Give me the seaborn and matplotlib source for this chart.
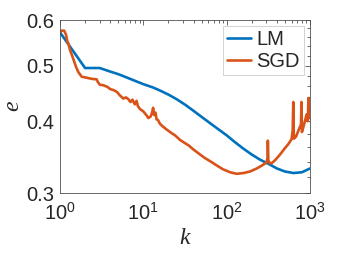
import numpy as np
import pandas as pd
import matplotlib
matplotlib.use('Agg')
import matplotlib.pyplot as plt
from matplotlib.ticker import FixedLocator, NullFormatter, FixedFormatter
import seaborn as sns

# --- datos ---
LM_K = [1, 2, 3, 4, 5, 6, 8, 10, 13, 16, 20, 25, 32, 40, 50, 63, 80, 100, 125,
        160, 200, 250, 320, 400, 500, 630, 800, 1000]
LM_E = [0.571, 0.495, 0.495, 0.488, 0.483, 0.478, 0.470, 0.464, 0.458, 0.452,
        0.445, 0.437, 0.427, 0.417, 0.407, 0.397, 0.387, 0.378, 0.368, 0.358,
        0.350, 0.343, 0.337, 0.331, 0.327, 0.325, 0.326, 0.331]

SGD_K = [1.00, 1.05, 1.12, 1.18, 1.22, 1.26, 1.32, 1.40, 1.48, 1.56, 1.66, 1.82,
         2.1, 2.4, 2.75, 2.85, 3.0, 3.3, 3.7, 4.0, 4.4, 4.8, 5.2, 5.75, 6.2, 6.6,
         7.0, 7.4, 7.9, 8.3, 8.6, 9.1, 10, 11, 11.5, 12.3, 12.8, 13.1, 13.5, 14,
         14.4, 15, 15.8, 17, 19, 22, 24, 27.6, 31, 35, 40, 48, 55, 65, 76, 90,
         110, 132, 160, 191, 230, 275, 300, 310, 312, 316, 330, 347, 380, 437,
         500, 550, 600, 620, 630, 640, 680, 740, 780, 790, 800, 850, 910, 940,
         960, 980, 1000]
SGD_E = [0.571, 0.575, 0.575, 0.566, 0.552, 0.546, 0.532, 0.520, 0.508, 0.497,
         0.487, 0.478, 0.476, 0.474, 0.473, 0.468, 0.463, 0.462, 0.459, 0.455,
         0.453, 0.450, 0.444, 0.438, 0.440, 0.437, 0.432, 0.436, 0.428, 0.434,
         0.425, 0.420, 0.416, 0.409, 0.405, 0.408, 0.415, 0.422, 0.410, 0.414,
         0.403, 0.402, 0.396, 0.392, 0.387, 0.381, 0.378, 0.371, 0.367, 0.363,
         0.357, 0.350, 0.345, 0.340, 0.335, 0.330, 0.326, 0.324, 0.325, 0.327,
         0.331, 0.336, 0.339, 0.345, 0.370, 0.342, 0.338, 0.338, 0.342, 0.350,
         0.359, 0.365, 0.372, 0.385, 0.432, 0.373, 0.376, 0.388, 0.395, 0.432,
         0.383, 0.395, 0.411, 0.400, 0.439, 0.405, 0.410]

SERIES = ['LM', 'SGD']
COLORS = ['#0072BD', '#D95319']
Y_TICKS = [0.3, 0.4, 0.5, 0.6]
Y_MINOR = [0.32, 0.34, 0.36, 0.38, 0.42, 0.44, 0.46, 0.48, 0.52, 0.54, 0.56, 0.58]
X_TICKS = [1, 10, 100, 1000]
X_LABELS = ['$10^{0}$', '$10^{1}$', '$10^{2}$', '$10^{3}$']

df = pd.concat([
    pd.DataFrame({'k': LM_K, 'e': LM_E, 'metodo': 'LM'}),
    pd.DataFrame({'k': SGD_K, 'e': SGD_E, 'metodo': 'SGD'}),
])

sns.set_style('white')
plt.rcParams['font.family'] = ['Liberation Sans', 'DejaVu Sans']
plt.rcParams['mathtext.fontset'] = 'custom'
plt.rcParams['mathtext.rm'] = 'Liberation Sans'
plt.rcParams['mathtext.it'] = 'Liberation Serif:italic'

fig = plt.figure(figsize=(3.42, 2.56), dpi=100)
ax = fig.add_axes([60 / 342, 63 / 256, 250 / 342, 173 / 256])

sns.lineplot(data=df, x='k', y='e', hue='metodo', hue_order=SERIES,
             palette=COLORS, estimator=None, sort=False, linewidth=1.9, ax=ax)

ax.set_xscale('log')
ax.set_yscale('log')
ax.set_xlim(1, 1000)
ax.set_ylim(0.3, 0.6)

ax.yaxis.set_major_locator(FixedLocator(Y_TICKS))
ax.yaxis.set_major_formatter(FixedFormatter([str(v) for v in Y_TICKS]))
ax.yaxis.set_minor_locator(FixedLocator(Y_MINOR))
ax.yaxis.set_minor_formatter(NullFormatter())
ax.xaxis.set_major_locator(FixedLocator(X_TICKS))
ax.xaxis.set_major_formatter(FixedFormatter(X_LABELS))

gris = '#262626'
for s in ax.spines.values():
    s.set_color('#505050')
    s.set_linewidth(0.6)
ax.tick_params(which='both', direction='in', top=True, right=True,
               colors='#505050', labelcolor=gris, labelsize=14.5, width=0.6)
ax.tick_params(which='major', length=3.5)
ax.tick_params(which='minor', length=2)
ax.tick_params(axis='x', which='major', pad=7)
ax.tick_params(axis='y', which='major', pad=4)

ax.set_xlabel('$k$', fontsize=17, color=gris, labelpad=2)
ax.set_ylabel('$e$', fontsize=17, color=gris, labelpad=2)

handles, labels = ax.get_legend_handles_labels()
leg = ax.legend(handles, labels, loc='upper right', fontsize=14.5, frameon=True,
                fancybox=False, edgecolor='#bfbfbf', handlelength=1.2,
                handletextpad=0.25, borderpad=0.2, labelspacing=0.15,
                borderaxespad=0.3)
leg.get_frame().set_linewidth(0.6)

fig.savefig('out.png', dpi=100)
